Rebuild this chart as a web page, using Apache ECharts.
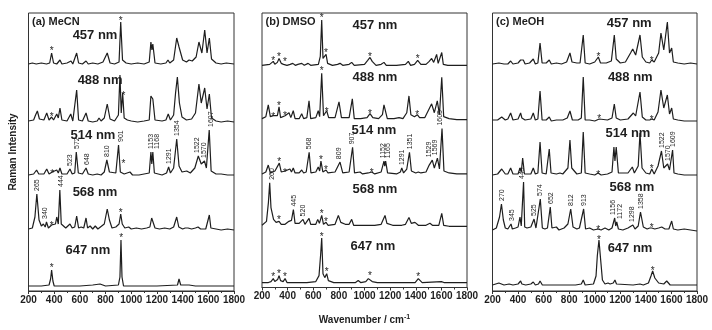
<!DOCTYPE html>
<html>
<head>
<meta charset="utf-8">
<script src="https://cdn.jsdelivr.net/npm/echarts@6/dist/echarts.min.js"></script>
<style>
  html, body { margin: 0; padding: 0; background: #fff; }
  #chart { width: 712px; height: 330px; }
</style>
</head>
<body>
<div id="chart"></div>
<script>
// ---- data (intensity in arbitrary units above each trace baseline) ----
const lasers = ['457 nm', '488 nm', '514 nm', '568 nm', '647 nm'];

// (a) MeCN
const a457 = [[200,1],[230,2],[260,1],[300,2],[340,1],[365,2],[380,12],[395,2],[420,1],[445,5],[460,1],[500,2],[531,4],[545,1],[560,2],[575,12],[590,2],[620,1],[648,4],[665,1],[700,2],[740,1],[780,3],[813,12],[835,2],[870,1],[905,3],[918,43],[932,5],[960,2],[975,3],[1000,1],[1050,2],[1100,1],[1140,3],[1153,23],[1161,15],[1168,21],[1185,2],[1230,1],[1270,2],[1286,5],[1300,2],[1330,5],[1354,27],[1372,18],[1385,20],[1400,5],[1430,3],[1450,5],[1475,4],[1505,8],[1527,23],[1550,12],[1572,35],[1590,12],[1608,27],[1625,6],[1660,2],[1700,1],[1740,2],[1800,1]];
const a488 = [[200,2],[240,3],[255,8],[269,12],[285,4],[320,3],[342,10],[360,3],[380,6],[395,3],[420,9],[432,5],[445,15],[460,3],[500,2],[529,9],[545,2],[560,3],[575,33],[590,3],[620,2],[648,10],[665,2],[700,1],[735,2],[749,5],[765,2],[790,5],[813,19],[835,4],[870,2],[900,8],[912,48],[922,10],[933,30],[945,5],[970,3],[985,5],[1000,2],[1050,1],[1100,2],[1140,3],[1153,27],[1168,24],[1185,3],[1240,2],[1270,3],[1288,9],[1305,3],[1330,8],[1345,30],[1359,46],[1375,20],[1395,6],[1430,3],[1470,4],[1500,10],[1527,39],[1545,20],[1572,35],[1590,14],[1608,29],[1625,5],[1660,2],[1700,1],[1750,2],[1800,1]];
const a514 = [[200,1],[240,2],[263,6],[280,2],[320,2],[342,7],[360,2],[385,4],[400,2],[420,6],[432,3],[445,8],[460,2],[500,2],[523,7],[540,2],[560,3],[572,24],[588,3],[620,2],[648,8],[665,2],[700,1],[735,2],[749,4],[765,1],[790,4],[810,16],[830,4],[880,3],[901,31],[915,4],[925,6],[945,2],[990,4],[1010,1],[1060,1],[1100,2],[1140,3],[1153,24],[1160,12],[1168,24],[1180,3],[1240,1],[1275,3],[1291,9],[1305,3],[1330,8],[1354,37],[1372,10],[1395,4],[1432,5],[1460,3],[1495,8],[1522,20],[1545,12],[1570,15],[1585,8],[1607,46],[1622,5],[1660,2],[1700,2],[1750,1],[1800,1]];
const a568 = [[200,3],[230,4],[250,15],[265,38],[282,12],[300,6],[316,8],[330,5],[340,10],[355,4],[380,7],[395,5],[410,8],[420,15],[432,8],[444,42],[455,8],[470,6],[490,4],[505,6],[523,8],[540,4],[560,5],[575,16],[590,4],[610,5],[630,4],[648,14],[660,4],[680,6],[700,3],[720,6],[740,3],[760,5],[790,8],[813,23],[830,12],[850,4],[880,5],[905,8],[918,18],[930,8],[950,4],[980,5],[1000,3],[1040,4],[1080,3],[1120,4],[1145,5],[1159,14],[1170,12],[1185,4],[1220,3],[1260,4],[1300,3],[1330,5],[1354,15],[1370,5],[1400,3],[1420,4],[1442,4],[1470,3],[1500,4],[1520,5],[1540,3],[1580,3],[1595,5],[1608,17],[1620,4],[1660,3],[1700,2],[1750,3],[1800,2]];
const a647 = [[200,1],[300,1],[360,2],[372,8],[380,17],[390,6],[400,1],[500,1],[600,1],[700,2],[757,3],[800,1],[900,2],[912,10],[920,47],[928,10],[940,1],[1100,1],[1200,1],[1360,2],[1372,8],[1385,2],[1450,2],[1500,1],[1800,1]];

// (b) DMSO
const b457 = [[200,1],[260,2],[288,5],[300,2],[320,4],[333,8],[350,3],[368,2],[380,4],[395,1],[420,2],[440,3],[460,1],[480,2],[510,3],[530,1],[560,3],[580,1],[640,2],[655,10],[666,47],[676,8],[690,6],[700,12],[712,3],[750,1],[790,2],[809,3],[830,1],[880,2],[900,4],[920,1],[1000,2],[1025,6],[1043,9],[1060,5],[1090,1],[1130,2],[1152,4],[1170,1],[1250,1],[1320,2],[1342,5],[1360,1],[1390,2],[1415,6],[1440,2],[1480,2],[1505,5],[1524,8],[1540,4],[1563,12],[1575,3],[1590,4],[1603,14],[1615,2],[1650,1],[1800,1]];
const b488 = [[200,2],[230,4],[249,16],[265,4],[288,5],[300,3],[320,5],[333,14],[345,3],[380,5],[395,3],[411,8],[425,3],[444,10],[458,2],[490,2],[510,7],[525,2],[550,3],[567,20],[580,2],[620,3],[639,10],[650,4],[666,48],[680,5],[705,10],[720,3],[770,3],[801,19],[820,3],[880,3],[905,22],[920,2],[970,2],[1020,3],[1043,7],[1065,3],[1110,2],[1140,6],[1152,16],[1165,14],[1178,2],[1230,2],[1270,3],[1283,5],[1300,2],[1330,8],[1347,25],[1362,6],[1390,4],[1412,6],[1430,3],[1470,3],[1505,12],[1524,17],[1545,8],[1568,20],[1585,6],[1603,44],[1618,4],[1660,2],[1720,1],[1800,1]];
const b514 = [[200,1],[230,3],[249,10],[265,2],[301,4],[315,2],[335,12],[350,3],[380,4],[395,2],[418,6],[430,3],[444,7],[458,2],[490,2],[510,5],[525,2],[545,3],[568,23],[582,2],[620,3],[639,8],[650,4],[660,14],[675,3],[700,5],[715,2],[770,3],[809,13],[830,2],[880,3],[907,28],[922,2],[965,3],[985,1],[1030,2],[1056,3],[1080,1],[1130,3],[1152,14],[1158,9],[1165,14],[1180,2],[1250,1],[1280,3],[1291,7],[1305,2],[1330,6],[1351,23],[1366,4],[1400,2],[1420,3],[1440,2],[1480,3],[1505,10],[1529,15],[1545,7],[1569,17],[1585,6],[1605,47],[1620,4],[1660,2],[1720,1],[1800,1]];
const b568 = [[200,2],[235,6],[250,25],[260,45],[270,20],[290,8],[310,5],[333,6],[350,3],[380,3],[410,6],[418,8],[430,7],[445,18],[458,4],[490,4],[520,8],[535,3],[550,3],[567,9],[580,3],[620,3],[635,8],[648,4],[666,12],[680,3],[700,5],[715,2],[770,3],[796,12],[815,5],[850,3],[880,3],[900,8],[915,2],[960,2],[1020,2],[1080,2],[1130,3],[1160,12],[1175,4],[1220,2],[1291,2],[1320,3],[1347,10],[1365,4],[1394,5],[1420,2],[1480,2],[1511,4],[1530,2],[1580,2],[1603,14],[1618,2],[1660,1],[1800,1]];
const b647 = [[200,1],[250,1],[270,2],[288,5],[300,2],[322,4],[333,8],[345,3],[365,2],[380,5],[395,1],[450,1],[550,1],[620,2],[645,8],[658,30],[666,46],[676,10],[690,6],[705,10],[718,3],[760,1],[850,1],[930,1],[951,3],[970,1],[1010,2],[1030,5],[1043,6],[1060,2],[1100,1],[1300,1],[1395,1],[1410,3],[1420,5],[1432,3],[1450,1],[1600,2],[1620,1],[1800,1]];

// (c) MeOH
const c457 = [[200,1],[250,2],[290,1],[320,1],[342,4],[360,1],[400,2],[420,5],[430,3],[441,5],[455,1],[490,2],[519,6],[535,1],[555,2],[572,22],[588,2],[620,2],[644,5],[660,1],[700,2],[740,1],[780,3],[806,12],[822,3],[860,2],[885,2],[910,30],[925,2],[960,1],[1000,3],[1028,8],[1045,2],[1090,2],[1130,4],[1153,30],[1168,6],[1200,2],[1240,3],[1280,12],[1297,16],[1320,10],[1354,30],[1372,8],[1400,3],[1430,2],[1446,5],[1465,3],[1500,12],[1518,32],[1540,15],[1568,43],[1585,12],[1602,17],[1615,3],[1650,2],[1700,1],[1750,2],[1800,1]];
const c488 = [[200,2],[240,2],[272,5],[300,2],[320,3],[342,9],[360,2],[400,3],[420,9],[430,4],[441,6],[455,2],[500,3],[519,9],[535,2],[555,3],[572,31],[588,2],[620,2],[644,5],[660,1],[700,2],[750,2],[785,4],[806,11],[825,2],[870,2],[895,4],[910,45],[925,2],[960,2],[1000,1],[1035,3],[1050,1],[1100,2],[1135,4],[1153,18],[1168,4],[1200,2],[1260,3],[1302,9],[1320,6],[1354,30],[1372,5],[1400,2],[1430,2],[1446,3],[1465,2],[1495,10],[1518,32],[1540,14],[1568,27],[1585,8],[1602,14],[1615,3],[1650,2],[1700,1],[1800,1]];
const c514 = [[200,1],[240,2],[272,7],[300,2],[320,2],[342,8],[360,2],[400,2],[415,8],[425,4],[436,18],[450,2],[500,2],[519,8],[535,2],[555,3],[572,34],[588,3],[620,2],[644,27],[658,3],[700,2],[728,3],[750,2],[790,8],[806,36],[820,8],[860,2],[895,3],[910,44],[925,3],[960,2],[1000,1],[1026,3],[1050,1],[1100,2],[1135,4],[1150,29],[1158,15],[1168,29],[1185,3],[1260,3],[1294,9],[1310,3],[1340,10],[1354,43],[1370,8],[1400,3],[1430,2],[1446,7],[1465,2],[1495,10],[1522,25],[1540,8],[1570,12],[1585,6],[1609,26],[1620,3],[1650,2],[1700,1],[1800,1]];
const c568 = [[200,2],[230,4],[255,15],[270,28],[285,12],[300,4],[320,3],[345,8],[355,3],[380,4],[400,5],[415,15],[425,6],[443,50],[452,5],[470,4],[500,5],[525,13],[540,4],[555,6],[574,33],[590,4],[610,3],[630,4],[652,25],[665,4],[680,3],[700,5],[720,2],[760,4],[790,8],[812,23],[830,5],[860,3],[880,4],[913,23],[928,3],[960,4],[990,2],[1026,3],[1050,2],[1080,4],[1110,2],[1135,4],[1156,14],[1164,6],[1172,10],[1185,3],[1220,2],[1260,4],[1298,7],[1315,3],[1340,6],[1358,20],[1380,5],[1410,3],[1430,4],[1446,4],[1470,3],[1500,4],[1524,5],[1550,3],[1580,3],[1602,11],[1615,3],[1650,2],[1700,3],[1750,2],[1800,1]];
const c647 = [[200,1],[250,3],[264,4],[290,1],[330,2],[342,4],[360,1],[400,2],[420,5],[430,2],[441,3],[460,1],[500,2],[519,4],[535,1],[560,2],[572,5],[590,1],[630,1],[644,2],[660,1],[750,1],[850,1],[895,2],[910,6],[925,1],[990,2],[1010,10],[1020,30],[1033,46],[1045,28],[1060,6],[1080,2],[1104,3],[1120,2],[1145,3],[1158,6],[1170,2],[1300,1],[1354,2],[1380,1],[1420,3],[1440,10],[1453,15],[1470,8],[1500,3],[1540,2],[1563,5],[1590,1],[1650,1],[1800,1]];

// solvent bands marked with * : [wavenumber, height above trace baseline]
const aStars = [[[380,17],[918,47]], [[380,9],[940,30]], [[385,5],[940,15]], [[380,9],[918,22]], [[380,22],[922,52]]];
const bStars = [
  [[288,8],[333,12],[380,7],[666,52],[700,16],[1043,12],[1415,10]],
  [[288,6],[333,18],[380,7],[666,53],[705,12],[1043,10],[1412,8]],
  [[335,16],[380,5],[660,18],[700,8],[1056,5]],
  [[333,10],[666,16],[700,8]],
  [[288,9],[333,12],[380,9],[666,50],[705,14],[1043,10],[1420,9]]
];
const cStars = [[[1028,11],[1446,7]], [[1035,6],[1446,5]], [[1026,4],[1446,10]], [[1026,5],[1446,7]], [[1033,49],[1453,18]]];

// peak labels: [x where the text sits, text]
const aLabels514 = [[523,'523'],[580,'572'],[653,'648'],[814,'810'],[918,'901'],[1154,'1153'],[1198,'1168'],[1296,'1291'],[1359,'1354'],[1514,'1522'],[1569,'1570'],[1618,'1607']];
const aLabels568 = [[269,'265'],[328,'340'],[453,'444']];
const bLabels514 = [[567,'568'],[804,'809'],[905,'907'],[1147,'1152'],[1186,'1165'],[1290,'1291'],[1355,'1351'],[1506,'1529'],[1550,'1569'],[1589,'1605']];
const bLabels568 = [[275,'260'],[450,'445'],[518,'520']];
const cLabels514 = [[1524,'1522'],[1571,'1570'],[1615,'1609']];
const cLabels568 = [[272,'270'],[350,'345'],[430,'443'],[525,'525'],[572,'574'],[658,'652'],[814,'812'],[916,'913'],[1140,'1156'],[1198,'1172'],[1294,'1298'],[1359,'1358']];

// ---- layout ----
const FONT = 'Liberation Sans, Arial, sans-serif';
const INK = '#1e1e1e';
const panels = [
  { title: '(a) MeCN', left: 28.5, right: 478, spectra: [a457, a488, a514, a568, a647], stars: aStars,
    base: [226, 168, 115, 59, 4], labels: { 2: aLabels514, 3: aLabels568 },
    tags: [[718,256],[757,211],[702,156],[718,99],[663,41]] },
  { title: '(b) DMSO', left: 262, right: 245, spectra: [b457, b488, b514, b568, b647], stars: bStars,
    base: [224, 169, 114, 61, 4], labels: { 2: bLabels514, 3: bLabels568 },
    tags: [[1082,265],[1082,213],[1074,159],[1082,99],[1066,42]] },
  { title: '(c) MeOH', left: 492.5, right: 15, spectra: [c457, c488, c514, c568, c647], stars: cStars,
    base: [226, 169, 115, 59, 5], labels: { 2: cLabels514, 3: cLabels568 },
    tags: [[1270,268],[1278,214],[1260,158],[1291,104],[1276,43]] }
];

const peakTop = (spec, wn) => {
  let m = 0;
  spec.forEach(([x, y]) => { if (Math.abs(x - wn) <= 14 && y > m) m = y; });
  return m;
};

const hidden = { color: 'rgba(0,0,0,0)', opacity: 1 };
const grids = [], xAxes = [], yAxes = [], series = [], graphics = [];

panels.forEach((p, i) => {
  grids.push({ left: p.left, right: p.right, top: 13, bottom: 39, show: true,
    borderColor: '#333', borderWidth: 1, backgroundColor: 'transparent' });
  xAxes.push({
    gridIndex: i, type: 'value', min: 200, max: 1800, interval: 200,
    axisLine: { lineStyle: { color: '#333', width: 1 } },
    axisTick: { show: true, length: 3, lineStyle: { color: '#333' } },
    minorTick: { show: true, splitNumber: 2, length: 2, lineStyle: { color: '#333' } },
    splitLine: { show: false },
    axisLabel: { fontFamily: FONT, fontSize: 10, fontWeight: 'bold', color: INK, margin: 4,
      formatter: (v) => String(v) },
    name: i === 1 ? 'Wavenumber / cm{sup|-1}' : '',
    nameLocation: 'middle', nameGap: 26,
    nameTextStyle: { fontFamily: FONT, fontSize: 10, fontWeight: 'bold', color: INK,
      rich: { sup: { fontFamily: FONT, fontSize: 7, fontWeight: 'bold', color: INK, verticalAlign: 'top', padding: [0, 0, 6, 0] } } }
  });
  yAxes.push({ gridIndex: i, type: 'value', min: 0, max: 278, show: false });

  p.spectra.forEach((spec, k) => {
    const b = p.base[k];
    series.push({
      type: 'line', xAxisIndex: i, yAxisIndex: i, showSymbol: false, silent: true,
      lineStyle: { color: INK, width: 1.2 },
      data: spec.map(([x, y]) => [x, y + b])
    });
    series.push({
      type: 'scatter', xAxisIndex: i, yAxisIndex: i, symbolSize: 1, silent: true,
      itemStyle: hidden,
      label: { show: true, position: 'inside', formatter: '*', offset: [0, 3],
        fontFamily: FONT, fontSize: 10, color: INK },
      data: p.stars[k].map(([x, h]) => [x, h + b])
    });
    const labs = p.labels[k];
    if (labs) {
      series.push({
        type: 'scatter', xAxisIndex: i, yAxisIndex: i, symbolSize: 1, silent: true,
        itemStyle: hidden,
        label: { show: true, position: 'inside', rotate: 90, align: 'left', verticalAlign: 'middle',
          formatter: (q) => q.value[2], fontFamily: FONT, fontSize: 7, color: INK },
        data: labs.map(([x, t]) => [x, b + peakTop(spec, Number(t)) + 3, t])
      });
    }
  });

  series.push({
    type: 'scatter', xAxisIndex: i, yAxisIndex: i, symbolSize: 1, silent: true,
    itemStyle: hidden,
    label: { show: true, position: 'inside', formatter: (q) => q.value[2],
      fontFamily: FONT, fontSize: 13, fontWeight: 'bold', color: INK },
    data: p.tags.map(([x, y], k) => [x, y, lasers[k]])
  });

  graphics.push({ type: 'text', left: p.left + 3.5, top: 16,
    style: { text: p.title, font: 'bold 11px ' + FONT, fill: INK } });
});

graphics.push({ type: 'text', x: 13, y: 152, rotation: Math.PI / 2,
  style: { text: 'Raman Intensity', font: 'bold 10px ' + FONT, fill: INK, align: 'center', verticalAlign: 'middle' } });

const chart = echarts.init(document.getElementById('chart'), null, { renderer: 'canvas' });
chart.setOption({
  animation: false,
  backgroundColor: '#fff',
  grid: grids,
  xAxis: xAxes,
  yAxis: yAxes,
  series: series,
  graphic: graphics
});
</script>
</body>
</html>
